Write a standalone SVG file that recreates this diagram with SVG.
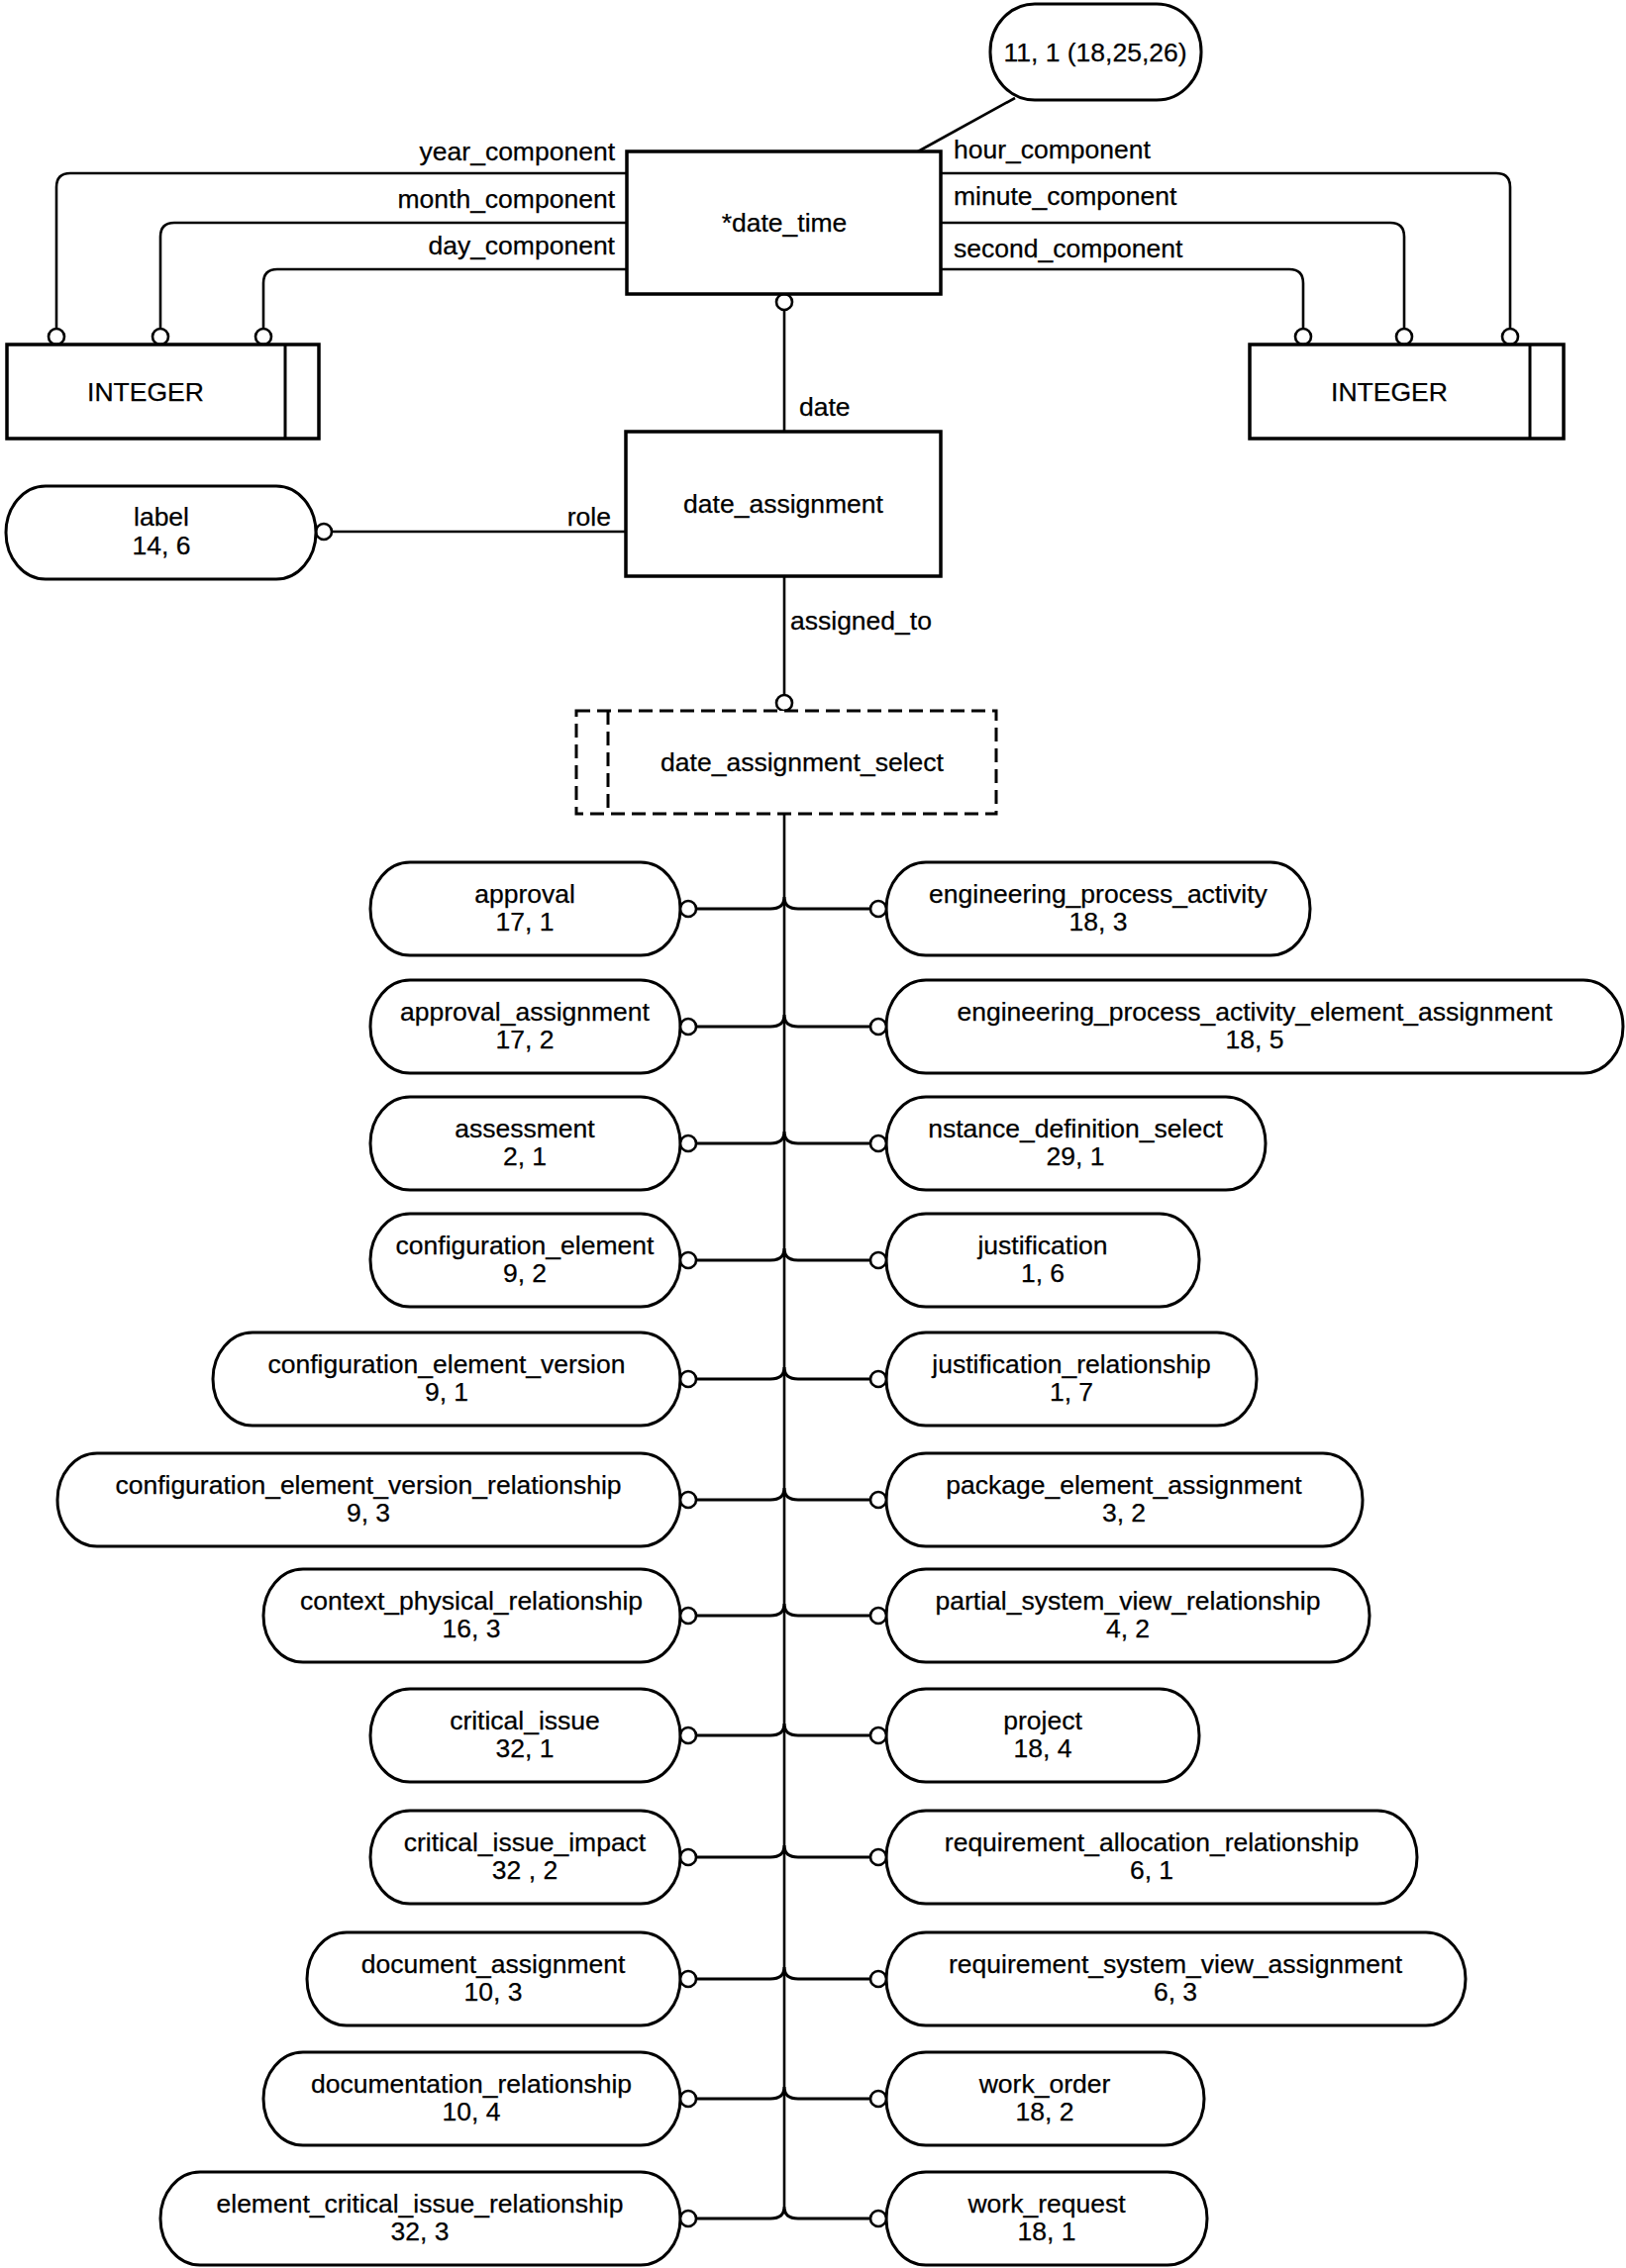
<svg xmlns="http://www.w3.org/2000/svg" width="1642" height="2291" viewBox="0 0 1642 2291">
<style>
text{font-family:"Liberation Sans",Arial,sans-serif;font-size:26.5px;fill:#000;stroke:#000;stroke-width:0.25}
.m{text-anchor:middle}
.e{text-anchor:end}
.box{fill:#fff;stroke:#000;stroke-width:3.5}
.pill{fill:#fff;stroke:#000;stroke-width:3}
.dash{fill:#fff;stroke:#000;stroke-width:3;stroke-dasharray:14 7}
.ln{fill:none;stroke:#000;stroke-width:2.6}
.br{fill:none;stroke:#000;stroke-width:3}
.c{fill:#fff;stroke:#000;stroke-width:2.6}
</style>
<rect width="1642" height="2291" fill="#fff"/>
<g id="connectors">
<path class="ln" d="M1025,99 L927,153"/>
<path class="ln" d="M633,175 H71 Q57,175 57,189 V332"/>
<path class="ln" d="M633,225 H176 Q162,225 162,239 V332"/>
<path class="ln" d="M633,272 H280 Q266,272 266,286 V332"/>
<path class="ln" d="M950,175 H1511 Q1525,175 1525,189 V332"/>
<path class="ln" d="M950,225 H1404 Q1418,225 1418,239 V332"/>
<path class="ln" d="M950,272 H1302 Q1316,272 1316,286 V332"/>
<circle class="c" cx="57" cy="340" r="8"/>
<circle class="c" cx="162" cy="340" r="8"/>
<circle class="c" cx="266" cy="340" r="8"/>
<circle class="c" cx="1316" cy="340" r="8"/>
<circle class="c" cx="1418" cy="340" r="8"/>
<circle class="c" cx="1525" cy="340" r="8"/>
<path class="ln" d="M792,313 V436"/>
<circle class="c" cx="792" cy="305" r="8"/>
<path class="ln" d="M335,537 H632"/>
<circle class="c" cx="327" cy="537" r="8"/>
<path class="ln" d="M792,582 V702"/>
<circle class="c" cx="792" cy="710" r="8"/>
<path class="ln" d="M792,822 V2229"/>
<g id="branches">
<path class="br" d="M703,918 H778 Q792,918 792,906 Q792,918 806,918 H879"/>
<path class="br" d="M703,1037 H778 Q792,1037 792,1025 Q792,1037 806,1037 H879"/>
<path class="br" d="M703,1155 H778 Q792,1155 792,1143 Q792,1155 806,1155 H879"/>
<path class="br" d="M703,1273 H778 Q792,1273 792,1261 Q792,1273 806,1273 H879"/>
<path class="br" d="M703,1393 H778 Q792,1393 792,1381 Q792,1393 806,1393 H879"/>
<path class="br" d="M703,1515 H778 Q792,1515 792,1503 Q792,1515 806,1515 H879"/>
<path class="br" d="M703,1632 H778 Q792,1632 792,1620 Q792,1632 806,1632 H879"/>
<path class="br" d="M703,1753 H778 Q792,1753 792,1741 Q792,1753 806,1753 H879"/>
<path class="br" d="M703,1876 H778 Q792,1876 792,1864 Q792,1876 806,1876 H879"/>
<path class="br" d="M703,1999 H778 Q792,1999 792,1987 Q792,1999 806,1999 H879"/>
<path class="br" d="M703,2120 H778 Q792,2120 792,2108 Q792,2120 806,2120 H879"/>
<path class="br" d="M703,2241 H778 Q792,2241 792,2229 Q792,2241 806,2241 H879"/>
</g>
</g>
<g id="n_ref">
<rect class="pill" x="1000" y="4" width="213" height="97" rx="45" ry="48"/>
<text class="m" x="1106" y="62">11, 1 (18,25,26)</text>
</g>
<g id="n_date_time">
<rect class="box" x="633" y="153" width="317" height="144"/>
<text class="m" x="792" y="234">*date_time</text>
</g>
<g id="n_year_label"><text class="e" x="621" y="162">year_component</text></g>
<g id="n_month_label"><text class="e" x="621" y="210">month_component</text></g>
<g id="n_day_label"><text class="e" x="621" y="257">day_component</text></g>
<g id="n_hour_label"><text x="963" y="160">hour_component</text></g>
<g id="n_minute_label"><text x="963" y="207">minute_component</text></g>
<g id="n_second_label"><text x="963" y="260">second_component</text></g>
<g id="n_integer_left">
<rect class="box" x="7" y="348" width="315" height="95"/>
<path class="ln" d="M288,348 V443" style="stroke-width:3"/>
<text class="m" x="147" y="405">INTEGER</text>
</g>
<g id="n_integer_right">
<rect class="box" x="1262" y="348" width="317" height="95"/>
<path class="ln" d="M1545,348 V443" style="stroke-width:3"/>
<text class="m" x="1403" y="405">INTEGER</text>
</g>
<g id="n_date_label"><text x="807" y="420">date</text></g>
<g id="n_date_assignment">
<rect class="box" x="632" y="436" width="318" height="146"/>
<text class="m" x="791" y="518">date_assignment</text>
</g>
<g id="n_role_label"><text class="e" x="617" y="531">role</text></g>
<g id="n_label">
<rect class="pill" x="6" y="491" width="313" height="94" rx="40" ry="47"/>
<text class="m" x="163" y="531">label</text>
<text class="m" x="163" y="560">14, 6</text>
</g>
<g id="n_assigned_label"><text x="798" y="636">assigned_to</text></g>
<g id="n_select">
<rect class="dash" x="582" y="718" width="424" height="104"/>
<path class="dash" d="M614,718 V822"/>
<text class="m" x="810" y="779">date_assignment_select</text>
</g>
<g id="left_nodes">
<g id="n_approval"><rect class="pill" x="374" y="871" width="313" height="94" rx="40" ry="47"/><text class="m" x="530" y="912">approval</text><text class="m" x="530" y="940">17, 1</text><circle class="c" cx="695" cy="918" r="8"/></g>
<g id="n_approval_assignment"><rect class="pill" x="374" y="990" width="313" height="94" rx="40" ry="47"/><text class="m" x="530" y="1031">approval_assignment</text><text class="m" x="530" y="1059">17, 2</text><circle class="c" cx="695" cy="1037" r="8"/></g>
<g id="n_assessment"><rect class="pill" x="374" y="1108" width="313" height="94" rx="40" ry="47"/><text class="m" x="530" y="1149">assessment</text><text class="m" x="530" y="1177">2, 1</text><circle class="c" cx="695" cy="1155" r="8"/></g>
<g id="n_configuration_element"><rect class="pill" x="374" y="1226" width="313" height="94" rx="40" ry="47"/><text class="m" x="530" y="1267">configuration_element</text><text class="m" x="530" y="1295">9, 2</text><circle class="c" cx="695" cy="1273" r="8"/></g>
<g id="n_cev"><rect class="pill" x="215" y="1346" width="472" height="94" rx="40" ry="47"/><text class="m" x="451" y="1387">configuration_element_version</text><text class="m" x="451" y="1415">9, 1</text><circle class="c" cx="695" cy="1393" r="8"/></g>
<g id="n_cevr"><rect class="pill" x="58" y="1468" width="629" height="94" rx="40" ry="47"/><text class="m" x="372" y="1509">configuration_element_version_relationship</text><text class="m" x="372" y="1537">9, 3</text><circle class="c" cx="695" cy="1515" r="8"/></g>
<g id="n_cpr"><rect class="pill" x="266" y="1585" width="421" height="94" rx="40" ry="47"/><text class="m" x="476" y="1626">context_physical_relationship</text><text class="m" x="476" y="1654">16, 3</text><circle class="c" cx="695" cy="1632" r="8"/></g>
<g id="n_critical_issue"><rect class="pill" x="374" y="1706" width="313" height="94" rx="40" ry="47"/><text class="m" x="530" y="1747">critical_issue</text><text class="m" x="530" y="1775">32, 1</text><circle class="c" cx="695" cy="1753" r="8"/></g>
<g id="n_critical_issue_impact"><rect class="pill" x="374" y="1829" width="313" height="94" rx="40" ry="47"/><text class="m" x="530" y="1870">critical_issue_impact</text><text class="m" x="530" y="1898">32 , 2</text><circle class="c" cx="695" cy="1876" r="8"/></g>
<g id="n_document_assignment"><rect class="pill" x="310" y="1952" width="377" height="94" rx="40" ry="47"/><text class="m" x="498" y="1993">document_assignment</text><text class="m" x="498" y="2021">10, 3</text><circle class="c" cx="695" cy="1999" r="8"/></g>
<g id="n_documentation_relationship"><rect class="pill" x="266" y="2073" width="421" height="94" rx="40" ry="47"/><text class="m" x="476" y="2114">documentation_relationship</text><text class="m" x="476" y="2142">10, 4</text><circle class="c" cx="695" cy="2120" r="8"/></g>
<g id="n_ecir"><rect class="pill" x="162" y="2194" width="525" height="94" rx="40" ry="47"/><text class="m" x="424" y="2235">element_critical_issue_relationship</text><text class="m" x="424" y="2263">32, 3</text><circle class="c" cx="695" cy="2241" r="8"/></g>
</g>
<g id="right_nodes">
<g id="n_epa"><rect class="pill" x="895" y="871" width="428" height="94" rx="40" ry="47"/><text class="m" x="1109" y="912">engineering_process_activity</text><text class="m" x="1109" y="940">18, 3</text><circle class="c" cx="887" cy="918" r="8"/></g>
<g id="n_epaea"><rect class="pill" x="895" y="990" width="744" height="94" rx="40" ry="47"/><text class="m" x="1267" y="1031">engineering_process_activity_element_assignment</text><text class="m" x="1267" y="1059">18, 5</text><circle class="c" cx="887" cy="1037" r="8"/></g>
<g id="n_nds"><rect class="pill" x="895" y="1108" width="383" height="94" rx="40" ry="47"/><text class="m" x="1086" y="1149">nstance_definition_select</text><text class="m" x="1086" y="1177">29, 1</text><circle class="c" cx="887" cy="1155" r="8"/></g>
<g id="n_justification"><rect class="pill" x="895" y="1226" width="316" height="94" rx="40" ry="47"/><text class="m" x="1053" y="1267">justification</text><text class="m" x="1053" y="1295">1, 6</text><circle class="c" cx="887" cy="1273" r="8"/></g>
<g id="n_justification_relationship"><rect class="pill" x="895" y="1346" width="374" height="94" rx="40" ry="47"/><text class="m" x="1082" y="1387">justification_relationship</text><text class="m" x="1082" y="1415">1, 7</text><circle class="c" cx="887" cy="1393" r="8"/></g>
<g id="n_pea"><rect class="pill" x="895" y="1468" width="481" height="94" rx="40" ry="47"/><text class="m" x="1135" y="1509">package_element_assignment</text><text class="m" x="1135" y="1537">3, 2</text><circle class="c" cx="887" cy="1515" r="8"/></g>
<g id="n_psvr"><rect class="pill" x="895" y="1585" width="488" height="94" rx="40" ry="47"/><text class="m" x="1139" y="1626">partial_system_view_relationship</text><text class="m" x="1139" y="1654">4, 2</text><circle class="c" cx="887" cy="1632" r="8"/></g>
<g id="n_project"><rect class="pill" x="895" y="1706" width="316" height="94" rx="40" ry="47"/><text class="m" x="1053" y="1747">project</text><text class="m" x="1053" y="1775">18, 4</text><circle class="c" cx="887" cy="1753" r="8"/></g>
<g id="n_rar"><rect class="pill" x="895" y="1829" width="536" height="94" rx="40" ry="47"/><text class="m" x="1163" y="1870">requirement_allocation_relationship</text><text class="m" x="1163" y="1898">6, 1</text><circle class="c" cx="887" cy="1876" r="8"/></g>
<g id="n_rsva"><rect class="pill" x="895" y="1952" width="585" height="94" rx="40" ry="47"/><text class="m" x="1187" y="1993">requirement_system_view_assignment</text><text class="m" x="1187" y="2021">6, 3</text><circle class="c" cx="887" cy="1999" r="8"/></g>
<g id="n_work_order"><rect class="pill" x="895" y="2073" width="321" height="94" rx="40" ry="47"/><text class="m" x="1055" y="2114">work_order</text><text class="m" x="1055" y="2142">18, 2</text><circle class="c" cx="887" cy="2120" r="8"/></g>
<g id="n_work_request"><rect class="pill" x="895" y="2194" width="324" height="94" rx="40" ry="47"/><text class="m" x="1057" y="2235">work_request</text><text class="m" x="1057" y="2263">18, 1</text><circle class="c" cx="887" cy="2241" r="8"/></g>
</g>
</svg>
